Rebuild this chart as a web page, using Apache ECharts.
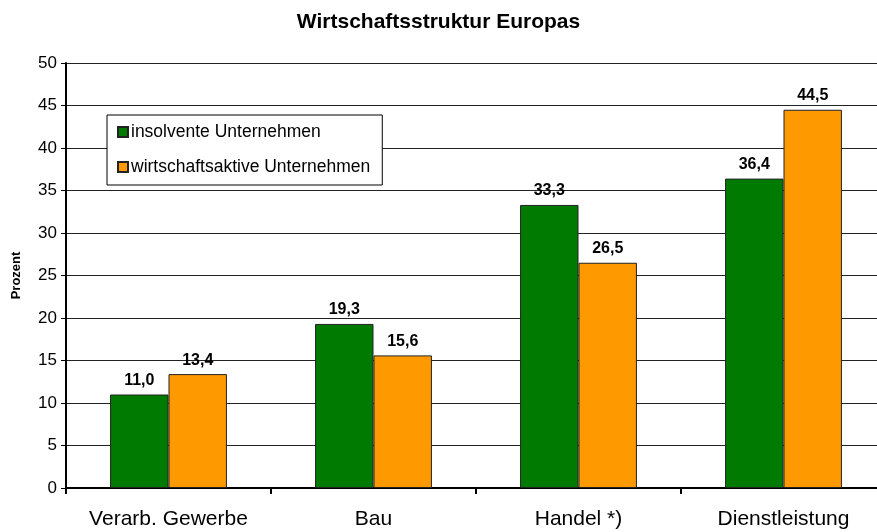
<!DOCTYPE html>
<html>
<head>
<meta charset="utf-8">
<script src="https://cdn.jsdelivr.net/npm/echarts@6/dist/echarts.min.js"></script>
<style>
  html, body { margin: 0; padding: 0; background: #fff; }
  #chart { width: 877px; height: 532px; }
</style>
</head>
<body>
<div id="chart"></div>
<script>
const categories = ['Verarb. Gewerbe', 'Bau', 'Handel *)', 'Dienstleistung']
const insolvent = [11.0, 19.3, 33.3, 36.4]
const aktiv = [13.4, 15.6, 26.5, 44.5]
const seriesNames = ['insolvente Unternehmen', 'wirtschaftsaktive Unternehmen']

const font = 'Liberation Sans, Arial, sans-serif'

const labelFmt = p => p.value.toFixed(1).replace('.', ',')

const chart = echarts.init(document.getElementById('chart'))

const barLabel = {
  show: true,
  position: 'top',
  distance: 6,
  formatter: labelFmt,
  fontFamily: font,
  fontSize: 16,
  fontWeight: 'bold',
  color: '#000'
}

const option = {
  backgroundColor: '#fff',
  animation: false,
  title: {
    text: 'Wirtschaftsstruktur Europas',
    left: 'center',
    top: 7,
    textStyle: { fontFamily: font, fontSize: 21, fontWeight: 'bold', color: '#000' }
  },
  legend: {
    orient: 'vertical',
    left: 107,
    top: 115,
    padding: [8, 12, 9, 10],
    itemGap: 17,
    itemWidth: 10,
    itemHeight: 10,
    icon: 'rect',
    borderColor: '#000',
    borderWidth: 1,
    backgroundColor: '#fff',
    textStyle: { fontFamily: font, fontSize: 17.5, color: '#000', padding: [0, 0, 0, -2] },
    data: seriesNames
  },
  grid: {
    left: 66,
    width: 820,
    top: 63,
    bottom: 44,
    outerBoundsMode: 'none',
    containLabel: false
  },
  xAxis: {
    type: 'category',
    data: categories,
    axisLine: { lineStyle: { color: '#000', width: 2 } },
    axisTick: { show: true, length: 6, lineStyle: { color: '#000', width: 2 } },
    axisLabel: { fontFamily: font, fontSize: 21, color: '#000', margin: 21, interval: 0 }
  },
  yAxis: {
    type: 'value',
    min: 0,
    max: 50,
    interval: 5,
    name: 'Prozent',
    nameLocation: 'middle',
    nameGap: 43,
    nameTextStyle: { fontFamily: font, fontSize: 13, fontWeight: 'bold', color: '#000' },
    axisLine: { show: true, lineStyle: { color: '#000', width: 2 } },
    axisTick: { show: true, length: 5, lineStyle: { color: '#000', width: 1 } },
    axisLabel: { fontFamily: font, fontSize: 17, color: '#000', margin: 9 },
    splitLine: { lineStyle: { color: '#222', width: 1 } }
  },
  series: [
    {
      name: seriesNames[0],
      type: 'bar',
      data: insolvent,
      barGap: '0%',
      barCategoryGap: '43%',
      itemStyle: { color: '#007A00', borderColor: '#222', borderWidth: 1 },
      label: barLabel
    },
    {
      name: seriesNames[1],
      type: 'bar',
      data: aktiv,
      itemStyle: { color: '#FF9900', borderColor: '#222', borderWidth: 1 },
      label: barLabel
    }
  ]
}

chart.setOption(option)
</script>
</body>
</html>
